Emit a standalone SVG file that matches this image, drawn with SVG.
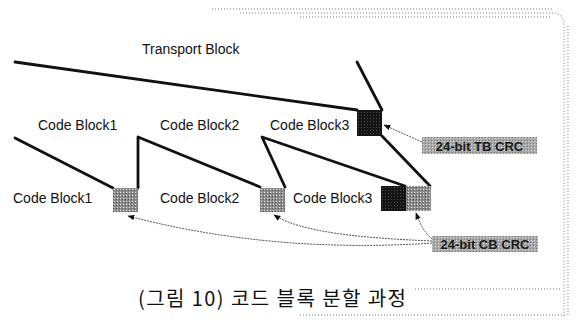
<svg xmlns="http://www.w3.org/2000/svg" width="577" height="325" viewBox="0 0 577 325">
  <defs>
    <pattern id="htGray" width="3" height="3" patternUnits="userSpaceOnUse">
      <rect width="3" height="3" fill="#8c8c8c"/>
      <rect x="0" y="0" width="1" height="1" fill="#e0e0e0"/>
      <rect x="2" y="1" width="1" height="1" fill="#555"/>
    </pattern>
    <pattern id="htDark" width="3" height="3" patternUnits="userSpaceOnUse">
      <rect width="3" height="3" fill="#151515"/>
      <rect x="1" y="1" width="1" height="1" fill="#4a4a4a"/>
    </pattern>
    <pattern id="htLabel" width="3" height="3" patternUnits="userSpaceOnUse">
      <rect width="3" height="3" fill="#a9a9a9"/>
      <rect x="0" y="0" width="1" height="1" fill="#d6d6d6"/>
      <rect x="2" y="2" width="1" height="1" fill="#7a7a7a"/>
    </pattern>
    <marker id="arr" viewBox="0 0 10 10" refX="9" refY="5" markerWidth="7" markerHeight="7" orient="auto-start-reverse" markerUnits="userSpaceOnUse">
      <path d="M0,1 L10,5 L0,9 Z" fill="#111"/>
    </marker>
    <style>
      .lbl { font-family: "Liberation Sans", Arial, sans-serif; font-size: 14px; fill: #111; }
      .crc { font-family: "Liberation Sans", Arial, sans-serif; font-size: 13px; font-weight: bold; fill: #1a1a1a; }
      .cap { font-family: "Noto Sans CJK KR", "Noto Sans", sans-serif; font-size: 20px; fill: #111; }
      .thick { stroke: #111; stroke-width: 2.8; fill: none; stroke-linecap: round; stroke-linejoin: round; }
      .thin { stroke: #555; stroke-width: 1; fill: none; stroke-dasharray: 2 1; }
      .frame { stroke: #a8a8a8; fill: none; stroke-width: 1.5; stroke-dasharray: 1 2; }
    </style>
  </defs>

  <rect width="577" height="325" fill="#ffffff"/>

  <!-- halftone frame (scan artifact) -->
  <g id="frame">
    <path class="frame" d="M212,9 L552,9" stroke="#c0c0c0"/>
    <path class="frame" d="M240,13 L552,13" stroke="#8f8f8f"/>
    <path class="frame" d="M300,17 L552,17" stroke="#9a9a9a"/>
    <path class="frame" d="M552,13 Q564,13 564,25 L564,318"/>
    <path class="frame" d="M568,26 L568,316" stroke="#c4c4c4"/>
    <path class="frame" d="M415,289 L562,289"/>
    <path class="frame" d="M300,315 L566,315"/>
  </g>

  <!-- connectors -->
  <g id="connectors">
    <path class="thick" d="M15,62 L357,110"/>
    <path class="thick" d="M357,62 L382,110"/>
    <path class="thick" d="M15,138 L113,188"/>
    <path class="thick" d="M138,188 L138,137 L260,187"/>
    <path class="thick" d="M285,187 L262,137 L405,186"/>
    <path class="thick" d="M382,136 L430,186"/>
    <path class="thin" d="M422,142 L384,125" marker-end="url(#arr)"/>
    <path class="thin" d="M432,243 C360,248 250,248 128,216" marker-end="url(#arr)"/>
    <path class="thin" d="M432,241 C360,238 300,232 274,215" marker-end="url(#arr)"/>
    <path class="thin" d="M432,239 C424,232 420,224 416,213" marker-end="url(#arr)"/>
  </g>

  <g id="transport-block">
    <text class="lbl" x="142" y="54">Transport Block</text>
  </g>

  <g id="tb-crc-box">
    <rect x="357" y="110" width="25" height="26" fill="url(#htDark)"/>
  </g>

  <g id="code-block1-top"><text class="lbl" x="38" y="130">Code Block1</text></g>
  <g id="code-block2-top"><text class="lbl" x="160" y="130">Code Block2</text></g>
  <g id="code-block3-top"><text class="lbl" x="270" y="130">Code Block3</text></g>

  <g id="code-block1">
    <text class="lbl" x="13" y="203">Code Block1</text>
    <rect x="113" y="188" width="25" height="24" fill="url(#htGray)"/>
  </g>
  <g id="code-block2">
    <text class="lbl" x="160" y="203">Code Block2</text>
    <rect x="260" y="188" width="25" height="24" fill="url(#htGray)"/>
  </g>
  <g id="code-block3">
    <text class="lbl" x="293" y="203">Code Block3</text>
    <rect x="381" y="186" width="25" height="25" fill="url(#htDark)"/>
    <rect x="406" y="186" width="25" height="25" fill="url(#htGray)"/>
  </g>

  <g id="tb-crc-label">
    <rect x="422" y="137" width="115" height="17" fill="url(#htLabel)"/>
    <text class="crc" x="479.5" y="150.5" text-anchor="middle">24-bit TB CRC</text>
  </g>
  <g id="cb-crc-label">
    <rect x="432" y="236" width="106" height="16" fill="url(#htLabel)"/>
    <text class="crc" x="485" y="249" text-anchor="middle">24-bit CB CRC</text>
  </g>

  <g id="caption">
    <text class="cap" x="138" y="306" textLength="268" lengthAdjust="spacing">(그림 10) 코드 블록 분할 과정</text>
  </g>
</svg>
